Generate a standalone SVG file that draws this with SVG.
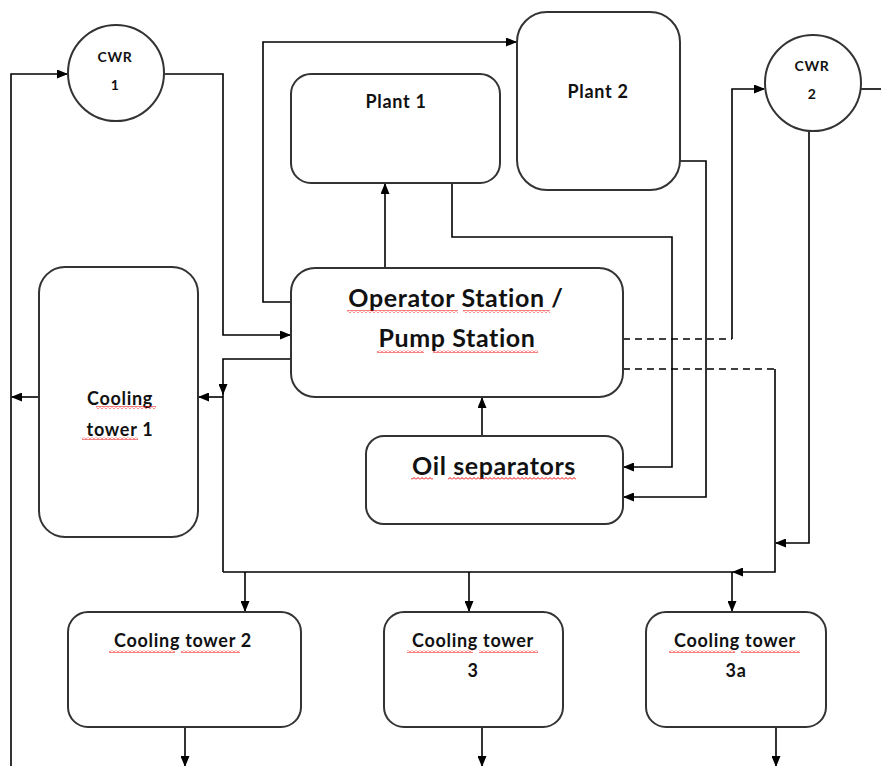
<svg xmlns="http://www.w3.org/2000/svg" width="881" height="766" viewBox="0 0 881 766">
<style>
.node{fill:#fff;stroke:#333;stroke-width:2}
.c{fill:none;stroke:#000;stroke-width:1.6}
.d{fill:none;stroke:#000;stroke-width:1.6;stroke-dasharray:7 5}
.a{marker-end:url(#ah)}
text{font-family:Lato,"Open Sans","Liberation Sans",sans-serif;font-weight:bold;fill:#111;text-anchor:middle}
.s{font-size:14px;letter-spacing:0.6px}
.m{font-size:18px;letter-spacing:0.7px}
.l{font-size:25px;letter-spacing:0.6px}
.sq{fill:url(#sq)}
</style>
<defs>
<marker id="ah" markerUnits="userSpaceOnUse" markerWidth="11" markerHeight="9" refX="10" refY="4.5" orient="auto">
<path d="M0,0 L11,4.5 L0,9 z" fill="#000"/>
</marker>
<pattern id="sq" patternUnits="userSpaceOnUse" width="4" height="3">
<path d="M0,2.5 L2,0.5 L4,2.5" fill="none" stroke="#e00" stroke-width="1"/>
</pattern>
</defs>
<rect width="881" height="766" fill="#fff"/>
<g id="connectors">
<path class="c a" d="M11,766 V74 H67"/>
<path class="c a" d="M165,74 H223 V335 H290"/>
<path class="c a" d="M291,302 H263 V42 H516"/>
<path class="c a" d="M385,268 V184"/>
<path class="c a" d="M452,183 V237 H672 V467 H624"/>
<path class="c a" d="M680,161 H706 V497 H624"/>
<path class="d" d="M623,339 H732"/>
<path class="c a" d="M732,339 V89 H764"/>
<path class="c" d="M861,89 H881"/>
<path class="d" d="M623,369 H775"/>
<path class="c a" d="M775,369 V572 H733"/>
<path class="c" d="M733,572 H223"/>
<path class="c a" d="M291,359 H223 V394"/>
<path class="c" d="M223,393 V572"/>
<path class="c a" d="M223,397 H199"/>
<path class="c a" d="M809,129 V543 H776"/>
<path class="c a" d="M245,572 V611"/>
<path class="c a" d="M469,572 V611"/>
<path class="c a" d="M732,572 V611"/>
<path class="c a" d="M39,397 H12"/>
<path class="c a" d="M482,436 V398"/>
<path class="c a" d="M185,727 V766"/>
<path class="c a" d="M482,727 V766"/>
<path class="c a" d="M776,727 V766"/>
</g>
<g id="cwr1">
<circle class="node" cx="116" cy="73" r="48"/>
<text class="s" x="115" y="62">CWR</text>
<text class="s" x="115" y="90">1</text>
</g>
<g id="plant1">
<rect class="node" x="291" y="74" width="209" height="109" rx="20"/>
<text class="m" x="396" y="108">Plant 1</text>
</g>
<g id="plant2">
<rect class="node" x="517" y="12" width="163" height="178" rx="30"/>
<text class="m" x="598" y="98">Plant 2</text>
</g>
<g id="cwr2">
<circle class="node" cx="813" cy="83" r="48"/>
<text class="s" x="812" y="71">CWR</text>
<text class="s" x="812" y="99">2</text>
</g>
<g id="operator">
<rect class="node" x="291" y="268" width="332" height="129" rx="24"/>
<text class="l" x="456" y="307">Operator Station /</text>
<text class="l" x="457" y="347">Pump Station</text>
<rect class="sq" x="347" y="310" width="111" height="3"/>
<rect class="sq" x="463" y="310" width="87" height="3"/>
<rect class="sq" x="377" y="350" width="47" height="3"/>
<rect class="sq" x="433" y="350" width="105" height="3"/>
</g>
<g id="ct1">
<rect class="node" x="39" y="267" width="159" height="270" rx="26"/>
<text class="m" x="120" y="405">Cooling</text>
<text class="m" x="120" y="436">tower 1</text>
<rect class="sq" x="96" y="406" width="60" height="3"/>
<rect class="sq" x="82" y="437" width="56" height="3"/>
</g>
<g id="oil">
<rect class="node" x="366" y="436" width="257" height="88" rx="18"/>
<text class="l" x="494" y="475">Oil separators</text>
<rect class="sq" x="411" y="477" width="22" height="3"/>
<rect class="sq" x="448" y="477" width="128" height="3"/>
</g>
<g id="ct2">
<rect class="node" x="68" y="612" width="233" height="115" rx="20"/>
<text class="m" x="183" y="647">Cooling tower 2</text>
<rect class="sq" x="109" y="650" width="66" height="3"/>
<rect class="sq" x="181" y="650" width="59" height="3"/>
</g>
<g id="ct3">
<rect class="node" x="384" y="612" width="179" height="115" rx="20"/>
<text class="m" x="473" y="647">Cooling tower</text>
<text class="m" x="473" y="677">3</text>
<rect class="sq" x="407" y="650" width="66" height="3"/>
<rect class="sq" x="479" y="650" width="59" height="3"/>
</g>
<g id="ct3a">
<rect class="node" x="646" y="612" width="180" height="115" rx="20"/>
<text class="m" x="735" y="647">Cooling tower</text>
<text class="m" x="736" y="677">3a</text>
<rect class="sq" x="669" y="650" width="66" height="3"/>
<rect class="sq" x="741" y="650" width="59" height="3"/>
</g>
</svg>
